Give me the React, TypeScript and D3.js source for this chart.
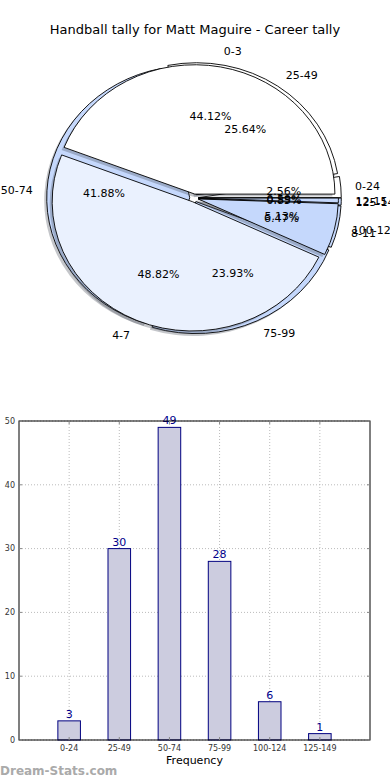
import React from 'react';
import * as d3 from 'd3';

// score ranges (inner pie, drawn on top)
const scoreLabels = ['0-3', '4-7', '8-11', '12-15'];
const scoreCounts = [75, 83, 11, 1];
const scoreColors = ['#ffffff', '#eaf1fe', '#c5d8fc', '#c5d8fc'];

// disposal ranges (the frequency series, drawn under it)
const rangeLabels = ['0-24', '25-49', '50-74', '75-99', '100-124', '125-149'];
const rangeCounts = [3, 30, 49, 28, 6, 1];
const rangeColors = ['#ffffff', '#ffffff', '#c5d8fc', '#c5d8fc', '#c5d8fc', '#c5d8fc'];

const yTicks = [0, 10, 20, 30, 40, 50];

const W = 390;
const H = 780;
const font = 'DejaVu Sans, sans-serif';

// pie geometry
const cx = 194,
  cy = 198,
  rx = 143,
  ry = 132;

const pieGen = d3
  .pie<number>()
  .sort(null)
  .startAngle(0)
  .endAngle(2 * Math.PI);

// matplotlib angles run counter-clockwise from 3 o'clock, d3 clockwise from 12
const wedgesFor = (counts, radius, explode) => {
  const total = d3.sum(counts);
  const arc = d3.arc<any>().innerRadius(0).outerRadius(rx * radius);
  return pieGen(counts).map((a, i) => {
    const mid = (a.startAngle + a.endAngle) / 2;
    return {
      i,
      mid,
      frac: a.value / total,
      ox: explode * rx * Math.cos(mid),
      oy: -explode * ry * Math.sin(mid),
      d: arc({ startAngle: Math.PI / 2 - a.endAngle, endAngle: Math.PI / 2 - a.startAngle })
    };
  });
};

const Wedges = ({ wedges, colors }) => {
  const sy = ry / rx;
  return (
    <g>
      {wedges.map(w => (
        <path
          key={'s' + w.i}
          d={w.d}
          transform={`translate(${cx + w.ox - 2.5},${cy + w.oy + 2.5}) scale(1,${sy})`}
          fill="#3c4150"
          opacity={0.3}
        />
      ))}
      {wedges.map(w => (
        <path
          key={'w' + w.i}
          d={w.d}
          transform={`translate(${cx + w.ox},${cy + w.oy}) scale(1,${sy})`}
          fill={colors[w.i]}
          stroke="#000"
          strokeWidth={0.9}
          vectorEffect="non-scaling-stroke"
        />
      ))}
    </g>
  );
};

const PieTexts = ({ wedges, labels }) => (
  <g fontSize={11} fontFamily={font}>
    {wedges.map(w => (
      <text
        key={'l' + w.i}
        x={cx + w.ox + 1.1 * rx * Math.cos(w.mid)}
        y={cy + w.oy - 1.1 * ry * Math.sin(w.mid)}
        dy="0.35em"
        textAnchor={Math.cos(w.mid) > 0 ? 'start' : 'end'}
      >
        {labels[w.i]}
      </text>
    ))}
    {wedges.map(w => (
      <text
        key={'p' + w.i}
        x={cx + w.ox + 0.6 * rx * Math.cos(w.mid)}
        y={cy + w.oy - 0.6 * ry * Math.sin(w.mid)}
        dy="0.35em"
        textAnchor="middle"
      >
        {(w.frac * 100).toFixed(2) + '%'}
      </text>
    ))}
  </g>
);

const BarChart = () => {
  const left = 19,
    right = 370,
    top = 421,
    bottom = 740;
  const x = d3.scaleLinear().domain([-1, rangeLabels.length]).range([left, right]);
  const y = d3.scaleLinear().domain([0, 50]).range([bottom, top]);
  const bw = (x(1) - x(0)) * 0.45;
  return (
    <g>
      {/* grid */}
      {yTicks.map(t => (
        <line
          key={'gy' + t}
          x1={left}
          x2={right}
          y1={y(t)}
          y2={y(t)}
          stroke="#bbb"
          strokeDasharray="1,2"
        />
      ))}
      {rangeLabels.map((c, i) => (
        <line
          key={'gx' + c}
          x1={x(i)}
          x2={x(i)}
          y1={top}
          y2={bottom}
          stroke="#bbb"
          strokeDasharray="1,2"
        />
      ))}
      {/* bars */}
      {rangeCounts.map((v, i) => (
        <g key={'b' + i}>
          <rect
            x={x(i) - bw / 2}
            y={y(v)}
            width={bw}
            height={bottom - y(v)}
            fill="#ccccdf"
            stroke="#000080"
            strokeWidth={1}
          />
          <text
            x={x(i)}
            y={y(v) - 3}
            textAnchor="middle"
            fontSize={11}
            fontFamily={font}
            fill="#00008b"
          >
            {v}
          </text>
        </g>
      ))}
      {/* frame */}
      <rect x={left} y={top} width={right - left} height={bottom - top} fill="none" stroke="#000" />
      {yTicks.map(t => (
        <g key={'ty' + t}>
          <line x1={left} x2={left + 3} y1={y(t)} y2={y(t)} stroke="#888" />
          <line x1={right - 3} x2={right} y1={y(t)} y2={y(t)} stroke="#888" />
          <text
            x={left - 4}
            y={y(t)}
            dy="0.35em"
            textAnchor="end"
            fontSize={8}
            fontFamily={font}
            fill="#333"
          >
            {t}
          </text>
        </g>
      ))}
      {rangeLabels.map((c, i) => (
        <g key={'tx' + c}>
          <line x1={x(i)} x2={x(i)} y1={top} y2={top + 3} stroke="#888" />
          <line x1={x(i)} x2={x(i)} y1={bottom - 3} y2={bottom} stroke="#888" />
          <text
            x={x(i)}
            y={bottom + 11}
            textAnchor="middle"
            fontSize={8}
            fontFamily={font}
            fill="#333"
          >
            {c}
          </text>
        </g>
      ))}
      <text x={(left + right) / 2} y={bottom + 24} textAnchor="middle" fontSize={11} fontFamily={font}>
        Frequency
      </text>
    </g>
  );
};

export default function App() {
  const rangeWedges = wedgesFor(rangeCounts, 1, 0.03);
  const scoreWedges = wedgesFor(scoreCounts, 0.98, 0.03);
  return (
    <svg
      width={W}
      height={H}
      style={{ position: 'absolute', left: 0, top: 0, background: '#fff' }}
    >
      <text x={W / 2} y={34} textAnchor="middle" fontSize={13} fontFamily={font}>
        Handball tally for Matt Maguire - Career tally
      </text>
      <Wedges wedges={rangeWedges} colors={rangeColors} />
      <Wedges wedges={scoreWedges} colors={scoreColors} />
      <PieTexts wedges={rangeWedges} labels={rangeLabels} />
      <PieTexts wedges={scoreWedges} labels={scoreLabels} />
      <BarChart />
      <text x={0} y={775} fontSize={12} fontFamily={font} fontWeight="bold" fill="#aaa">
        Dream-Stats.com
      </text>
    </svg>
  );
}
